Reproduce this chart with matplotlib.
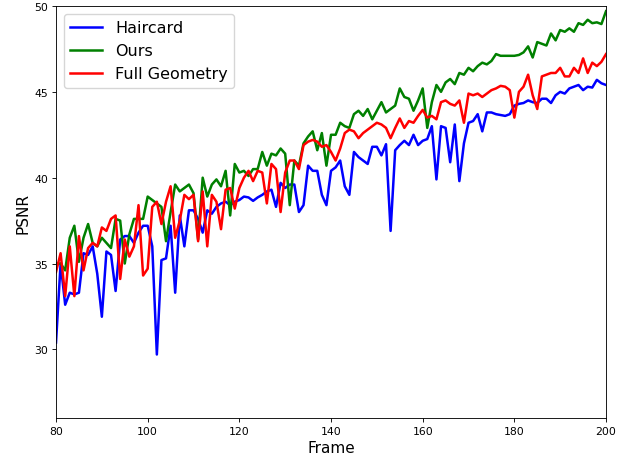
import matplotlib
matplotlib.use('Agg')
import matplotlib.pyplot as plt

frames = list(range(80, 201))

haircard = [
    30.4, 35.0, 32.6, 33.3, 33.2, 33.3, 35.6, 35.5, 36.0, 34.4,   # 80-89
    31.9, 35.7, 35.5, 33.4, 36.4, 36.6, 36.6, 36.2, 36.8, 37.2,   # 90-99
    37.2, 36.0, 29.7, 35.2, 35.3, 37.2, 33.3, 37.8, 36.0, 38.1,   # 100-109
    38.1, 37.6, 36.8, 38.1, 37.9, 38.3, 38.5, 38.6, 38.4, 38.6,   # 110-119
    38.7, 38.9, 38.85, 38.65, 38.85, 39.0, 39.2, 39.3, 38.3, 39.7,  # 120-129
    39.4, 39.6, 39.6, 38.0, 38.4, 40.7, 40.4, 40.4, 39.0, 38.4,   # 130-139
    40.4, 40.6, 41.0, 39.5, 39.0, 41.5, 41.2, 41.0, 40.8, 41.8,   # 140-149
    41.8, 41.3, 41.95, 36.9, 41.6, 41.9, 42.15, 41.9, 42.5, 41.9,  # 150-159
    42.15, 42.25, 43.0, 39.9, 43.0, 42.9, 40.9, 43.1, 39.8, 42.0,  # 160-169
    43.2, 43.3, 43.7, 42.7, 43.8, 43.8, 43.7, 43.65, 43.6, 43.7,  # 170-179
    44.2, 44.3, 44.35, 44.5, 44.4, 44.35, 44.6, 44.6, 44.35, 44.8,  # 180-189
    45.0, 44.9, 45.2, 45.3, 45.4, 45.1, 45.3, 45.25, 45.7, 45.5,  # 190-199
    45.4,                                                         # 200
]

ours = [
    35.0, 35.0, 34.6, 36.5, 37.2, 35.1, 36.5, 37.3, 36.2, 36.0,
    36.5, 36.2, 35.9, 37.6, 37.5, 35.0, 36.7, 37.6, 37.6, 37.6,
    38.9, 38.7, 38.5, 38.3, 36.3, 38.0, 39.6, 39.2, 39.4, 39.6,
    39.1, 36.4, 40.0, 38.9, 39.6, 39.9, 39.5, 40.4, 37.8, 40.8,
    40.3, 40.4, 40.1, 40.5, 40.5, 41.5, 40.7, 41.4, 41.3, 41.7,
    41.4, 38.4, 41.0, 40.7, 42.0, 42.4, 42.7, 41.6, 42.6, 40.7,
    42.5, 42.5, 43.2, 43.0, 42.9, 43.7, 43.9, 43.6, 44.0, 43.4,
    43.9, 44.4, 43.8, 44.0, 44.2, 45.2, 44.7, 44.6, 43.9, 44.5,
    45.2, 42.9, 44.4, 45.4, 45.0, 45.55, 45.75, 45.45, 46.1, 46.0,
    46.4, 46.2, 46.5, 46.7, 46.6, 46.8, 47.2, 47.1, 47.1, 47.1,
    47.1, 47.15, 47.3, 47.65, 47.0, 47.9, 47.8, 47.7, 48.4, 48.0,
    48.6, 48.5, 48.7, 48.5, 49.0, 48.9, 49.2, 49.0, 49.05, 48.95,
    49.7,
]

full_geometry = [
    34.5, 35.6, 33.1, 36.0, 33.1, 36.6, 34.6, 35.9, 36.2, 36.0,
    37.1, 36.9, 37.6, 37.8, 34.1, 36.4, 35.4, 36.0, 38.4, 34.3,
    34.7, 38.3, 38.6, 37.3, 38.6, 39.5, 36.5, 37.5, 39.0, 38.75,
    39.0, 36.3, 39.2, 36.0, 39.0, 38.6, 37.0, 39.3, 39.4, 38.2,
    39.4, 40.0, 40.4, 39.8, 40.4, 40.3, 38.5, 40.8, 40.5, 38.0,
    40.3, 41.0, 41.0, 40.5, 41.9, 42.1, 42.2, 42.1, 41.8, 41.9,
    41.5, 41.0, 41.7, 42.6, 42.8, 42.7, 42.3, 42.6, 42.8, 43.0,
    43.2, 43.1, 42.9, 42.3, 42.9, 43.45, 42.9, 43.3, 43.2, 43.6,
    43.95, 43.5, 43.6, 43.4, 44.4, 44.5, 44.3, 44.2, 44.5, 43.2,
    44.9, 44.8, 44.9, 44.7, 44.9, 45.1, 45.2, 45.35, 45.3, 45.1,
    43.5, 45.0, 45.3, 46.0, 44.8, 44.0, 45.9, 46.0, 46.1, 46.1,
    46.4, 45.9, 45.9, 46.4, 46.1, 46.95, 46.1, 46.7, 46.5, 46.75,
    47.2,
]

# figure looks like a shrunk 8x6 plot, so sizes are scaled down
s = 0.785
plt.rcParams['axes.linewidth'] = 0.8 * s
plt.rcParams['xtick.major.size'] = 3.5 * s
plt.rcParams['ytick.major.size'] = 3.5 * s
plt.rcParams['xtick.major.width'] = 0.8 * s
plt.rcParams['ytick.major.width'] = 0.8 * s
plt.rcParams['xtick.major.pad'] = 3.5 * s
plt.rcParams['ytick.major.pad'] = 3.5 * s
plt.rcParams['xtick.labelsize'] = 10 * s
plt.rcParams['ytick.labelsize'] = 10 * s

fig = plt.figure(figsize=(6.28, 4.56), dpi=100)
ax = fig.add_axes([0.0892, 0.0811, 0.8758, 0.9035])

ax.plot(frames, haircard, color='blue', linewidth=1.8, label='Haircard')
ax.plot(frames, ours, color='green', linewidth=1.8, label='Ours')
ax.plot(frames, full_geometry, color='red', linewidth=1.8, label='Full Geometry')

ax.set_xlim(80, 200)
ax.set_ylim(26, 50)
ax.set_xlabel('Frame', fontsize=11, labelpad=3)
ax.set_ylabel('PSNR', fontsize=11, labelpad=3)
ax.legend(loc='upper left', fontsize=11.5)

fig.savefig('out.png', dpi=100)
